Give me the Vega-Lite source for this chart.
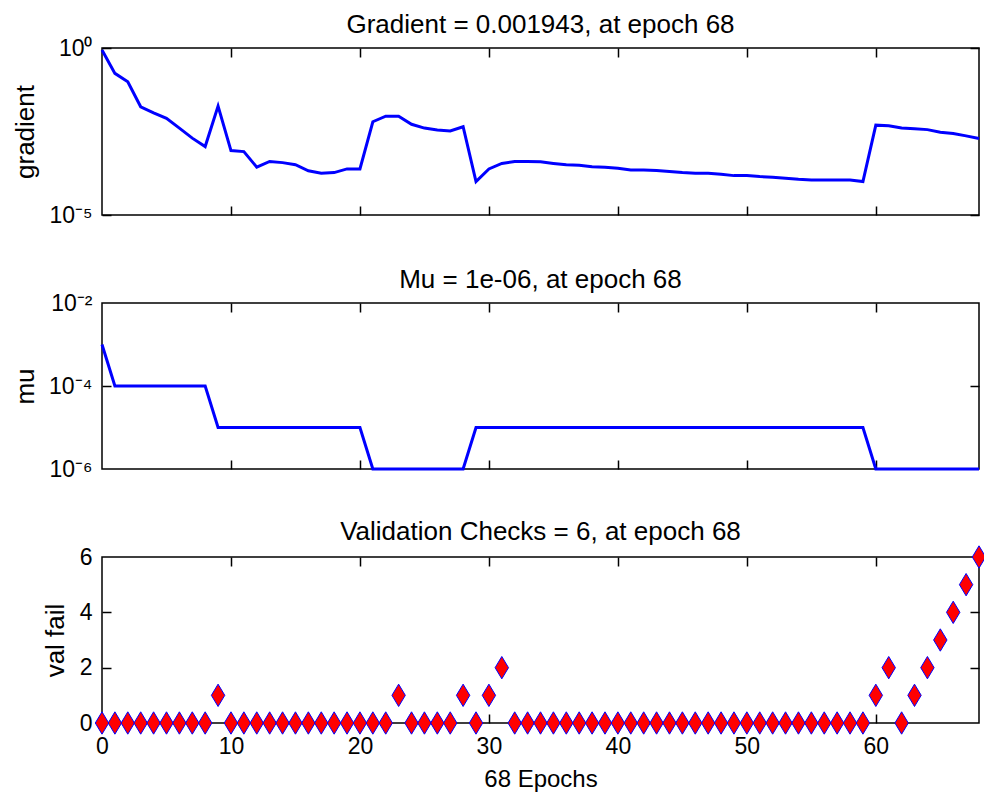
{
"$schema": "https://vega.github.io/schema/vega-lite/v6.json",
"background": "white",
"padding": {"left": 11, "top": 11, "right": 0, "bottom": 0},
"bounds": "flush",
"spacing": 88,
"config": {
  "view": {"stroke": "#000000", "strokeWidth": 1.5},
  "font": "Liberation Sans",
  "axis": {"grid": false, "domain": false, "labelFont": "Liberation Sans", "labelFontSize": 23, "labelColor": "#000000", "titleFont": "Liberation Sans", "titleFontSize": 26, "titleFontWeight": "normal", "titleColor": "#000000", "tickColor": "#000000", "tickWidth": 1.5, "labelOverlap": false},
  "title": {"font": "Liberation Sans", "fontSize": 26, "fontWeight": "normal", "color": "#000000", "frame": "group", "anchor": "middle", "baseline": "alphabetic", "offset": -1}
},
"datasets": {
  "train": [
    {"epoch":0,"gradient":0.87,"mu":0.001,"valfail":0},
    {"epoch":1,"gradient":0.174,"mu":0.0001,"valfail":0},
    {"epoch":2,"gradient":0.098,"mu":0.0001,"valfail":0},
    {"epoch":3,"gradient":0.0174,"mu":0.0001,"valfail":0},
    {"epoch":4,"gradient":0.0115,"mu":0.0001,"valfail":0},
    {"epoch":5,"gradient":0.0078,"mu":0.0001,"valfail":0},
    {"epoch":6,"gradient":0.004,"mu":0.0001,"valfail":0},
    {"epoch":7,"gradient":0.002,"mu":0.0001,"valfail":0},
    {"epoch":8,"gradient":0.00112,"mu":0.0001,"valfail":0},
    {"epoch":9,"gradient":0.0182,"mu":0.00001,"valfail":1},
    {"epoch":10,"gradient":0.00085,"mu":0.00001,"valfail":0},
    {"epoch":11,"gradient":0.00079,"mu":0.00001,"valfail":0},
    {"epoch":12,"gradient":0.00027,"mu":0.00001,"valfail":0},
    {"epoch":13,"gradient":0.0004,"mu":0.00001,"valfail":0},
    {"epoch":14,"gradient":0.00037,"mu":0.00001,"valfail":0},
    {"epoch":15,"gradient":0.00032,"mu":0.00001,"valfail":0},
    {"epoch":16,"gradient":0.00021,"mu":0.00001,"valfail":0},
    {"epoch":17,"gradient":0.000178,"mu":0.00001,"valfail":0},
    {"epoch":18,"gradient":0.000186,"mu":0.00001,"valfail":0},
    {"epoch":19,"gradient":0.00024,"mu":0.00001,"valfail":0},
    {"epoch":20,"gradient":0.00024,"mu":0.00001,"valfail":0},
    {"epoch":21,"gradient":0.0062,"mu":0.000001,"valfail":0},
    {"epoch":22,"gradient":0.0091,"mu":0.000001,"valfail":0},
    {"epoch":23,"gradient":0.0091,"mu":0.000001,"valfail":1},
    {"epoch":24,"gradient":0.0052,"mu":0.000001,"valfail":0},
    {"epoch":25,"gradient":0.004,"mu":0.000001,"valfail":0},
    {"epoch":26,"gradient":0.0035,"mu":0.000001,"valfail":0},
    {"epoch":27,"gradient":0.0033,"mu":0.000001,"valfail":0},
    {"epoch":28,"gradient":0.0044,"mu":0.000001,"valfail":1},
    {"epoch":29,"gradient":0.0001,"mu":0.00001,"valfail":0},
    {"epoch":30,"gradient":0.00024,"mu":0.00001,"valfail":1},
    {"epoch":31,"gradient":0.00035,"mu":0.00001,"valfail":2},
    {"epoch":32,"gradient":0.0004,"mu":0.00001,"valfail":0},
    {"epoch":33,"gradient":0.0004,"mu":0.00001,"valfail":0},
    {"epoch":34,"gradient":0.00039,"mu":0.00001,"valfail":0},
    {"epoch":35,"gradient":0.00035,"mu":0.00001,"valfail":0},
    {"epoch":36,"gradient":0.00032,"mu":0.00001,"valfail":0},
    {"epoch":37,"gradient":0.00031,"mu":0.00001,"valfail":0},
    {"epoch":38,"gradient":0.00028,"mu":0.00001,"valfail":0},
    {"epoch":39,"gradient":0.00027,"mu":0.00001,"valfail":0},
    {"epoch":40,"gradient":0.00025,"mu":0.00001,"valfail":0},
    {"epoch":41,"gradient":0.000224,"mu":0.00001,"valfail":0},
    {"epoch":42,"gradient":0.000224,"mu":0.00001,"valfail":0},
    {"epoch":43,"gradient":0.000214,"mu":0.00001,"valfail":0},
    {"epoch":44,"gradient":0.0002,"mu":0.00001,"valfail":0},
    {"epoch":45,"gradient":0.000186,"mu":0.00001,"valfail":0},
    {"epoch":46,"gradient":0.000178,"mu":0.00001,"valfail":0},
    {"epoch":47,"gradient":0.000178,"mu":0.00001,"valfail":0},
    {"epoch":48,"gradient":0.000166,"mu":0.00001,"valfail":0},
    {"epoch":49,"gradient":0.000151,"mu":0.00001,"valfail":0},
    {"epoch":50,"gradient":0.000151,"mu":0.00001,"valfail":0},
    {"epoch":51,"gradient":0.000141,"mu":0.00001,"valfail":0},
    {"epoch":52,"gradient":0.000135,"mu":0.00001,"valfail":0},
    {"epoch":53,"gradient":0.000126,"mu":0.00001,"valfail":0},
    {"epoch":54,"gradient":0.000117,"mu":0.00001,"valfail":0},
    {"epoch":55,"gradient":0.000112,"mu":0.00001,"valfail":0},
    {"epoch":56,"gradient":0.000112,"mu":0.00001,"valfail":0},
    {"epoch":57,"gradient":0.000112,"mu":0.00001,"valfail":0},
    {"epoch":58,"gradient":0.000112,"mu":0.00001,"valfail":0},
    {"epoch":59,"gradient":0.0001,"mu":0.00001,"valfail":0},
    {"epoch":60,"gradient":0.0049,"mu":0.000001,"valfail":1},
    {"epoch":61,"gradient":0.0047,"mu":0.000001,"valfail":2},
    {"epoch":62,"gradient":0.004,"mu":0.000001,"valfail":0},
    {"epoch":63,"gradient":0.0038,"mu":0.000001,"valfail":1},
    {"epoch":64,"gradient":0.0036,"mu":0.000001,"valfail":2},
    {"epoch":65,"gradient":0.003,"mu":0.000001,"valfail":3},
    {"epoch":66,"gradient":0.00275,"mu":0.000001,"valfail":4},
    {"epoch":67,"gradient":0.00234,"mu":0.000001,"valfail":5},
    {"epoch":68,"gradient":0.001943,"mu":0.000001,"valfail":6}
  ]
},
"vconcat": [
  {
    "width": 877, "height": 167,
    "data": {"name": "train"},
    "title": {"text": "Gradient = 0.001943, at epoch 68"},
    "layer": [
      {"mark": {"type": "line", "color": "#0000ff", "strokeWidth": 3},
       "encoding": {
         "x": {"field": "epoch", "type": "quantitative", "scale": {"domain": [0, 68], "nice": false, "zero": false},
               "axis": {"orient": "bottom", "ticks": false, "labels": false, "title": null, "values": [0]}},
         "y": {"field": "gradient", "type": "quantitative", "scale": {"type": "log", "domain": [0.00001, 1], "nice": false},
               "axis": {"orient": "left", "ticks": false, "values": [0.00001, 1], "labelExpr": "datum.value > 0.5 ? '10⁰' : '10⁻⁵'", "labelPadding": 10, "labelBaseline": "middle", "title": "gradient", "titleX": -69, "titleBaseline": "alphabetic"}}
       }},
      {"mark": {"type": "line", "opacity": 0},
       "encoding": {
         "x": {"field": "epoch", "type": "quantitative", "axis": {"orient": "bottom", "labels": false, "tickSize": -9, "values": [10, 20, 30, 40, 50, 60], "title": null}},
         "y": {"field": "gradient", "type": "quantitative", "axis": {"orient": "left", "labels": false, "tickSize": -9, "values": [0.00001, 1], "title": null}}
       }},
      {"mark": {"type": "line", "opacity": 0},
       "encoding": {
         "x": {"field": "epoch", "type": "quantitative", "axis": {"orient": "top", "labels": false, "tickSize": -9, "values": [10, 20, 30, 40, 50, 60], "title": null}},
         "y": {"field": "gradient", "type": "quantitative", "axis": {"orient": "right", "labels": false, "tickSize": -9, "values": [0.00001, 1], "title": null}}
       }}
    ],
    "resolve": {"axis": {"x": "independent", "y": "independent"}}
  },
  {
    "width": 877, "height": 166,
    "data": {"name": "train"},
    "title": {"text": "Mu = 1e-06, at epoch 68"},
    "layer": [
      {"mark": {"type": "line", "color": "#0000ff", "strokeWidth": 3},
       "encoding": {
         "x": {"field": "epoch", "type": "quantitative", "scale": {"domain": [0, 68], "nice": false, "zero": false},
               "axis": {"orient": "bottom", "ticks": false, "labels": false, "title": null, "values": [0]}},
         "y": {"field": "mu", "type": "quantitative", "scale": {"type": "log", "domain": [0.000001, 0.01], "nice": false},
               "axis": {"orient": "left", "ticks": false, "values": [0.000001, 0.0001, 0.01], "labelExpr": "datum.value > 0.001 ? '10⁻²' : datum.value > 0.00001 ? '10⁻⁴' : '10⁻⁶'", "labelPadding": 10, "labelBaseline": "middle", "title": "mu", "titleX": -69, "titleBaseline": "alphabetic"}}
       }},
      {"mark": {"type": "line", "opacity": 0},
       "encoding": {
         "x": {"field": "epoch", "type": "quantitative", "axis": {"orient": "bottom", "labels": false, "tickSize": -9, "values": [10, 20, 30, 40, 50, 60], "title": null}},
         "y": {"field": "mu", "type": "quantitative", "axis": {"orient": "left", "labels": false, "tickSize": -9, "values": [0.0001], "title": null}}
       }},
      {"mark": {"type": "line", "opacity": 0},
       "encoding": {
         "x": {"field": "epoch", "type": "quantitative", "axis": {"orient": "top", "labels": false, "tickSize": -9, "values": [10, 20, 30, 40, 50, 60], "title": null}},
         "y": {"field": "mu", "type": "quantitative", "axis": {"orient": "right", "labels": false, "tickSize": -9, "values": [0.0001], "title": null}}
       }}
    ],
    "resolve": {"axis": {"x": "independent", "y": "independent"}}
  },
  {
    "width": 877, "height": 166,
    "data": {"name": "train"},
    "title": {"text": "Validation Checks = 6, at epoch 68"},
    "layer": [
      {"mark": {"type": "point", "shape": "M0,-1L0.6,0L0,1L-0.6,0Z", "size": 500, "filled": true, "fill": "#ff0000", "stroke": "#0000ff", "strokeWidth": 1, "opacity": 1},
       "encoding": {
         "x": {"field": "epoch", "type": "quantitative", "scale": {"domain": [0, 68], "nice": false, "zero": false},
               "axis": {"orient": "bottom", "ticks": false, "values": [0, 10, 20, 30, 40, 50, 60], "labelFlush": false, "labelPadding": 12, "title": "68 Epochs", "titleFontSize": 24, "titleY": 63, "titleBaseline": "alphabetic"}},
         "y": {"field": "valfail", "type": "quantitative", "scale": {"domain": [0, 6], "nice": false, "zero": false},
               "axis": {"orient": "left", "ticks": false, "values": [0, 2, 4, 6], "labelPadding": 10, "labelBaseline": "middle", "title": "val fail", "titleX": -39, "titleBaseline": "alphabetic"}}
       }},
      {"mark": {"type": "point", "opacity": 0},
       "encoding": {
         "x": {"field": "epoch", "type": "quantitative", "axis": {"orient": "bottom", "labels": false, "tickSize": -9, "values": [10, 20, 30, 40, 50, 60], "title": null}},
         "y": {"field": "valfail", "type": "quantitative", "axis": {"orient": "left", "labels": false, "tickSize": -9, "values": [2, 4], "title": null}}
       }},
      {"mark": {"type": "point", "opacity": 0},
       "encoding": {
         "x": {"field": "epoch", "type": "quantitative", "axis": {"orient": "top", "labels": false, "tickSize": -9, "values": [10, 20, 30, 40, 50, 60], "title": null}},
         "y": {"field": "valfail", "type": "quantitative", "axis": {"orient": "right", "labels": false, "tickSize": -9, "values": [2, 4], "title": null}}
       }}
    ],
    "resolve": {"axis": {"x": "independent", "y": "independent"}}
  }
]
}
